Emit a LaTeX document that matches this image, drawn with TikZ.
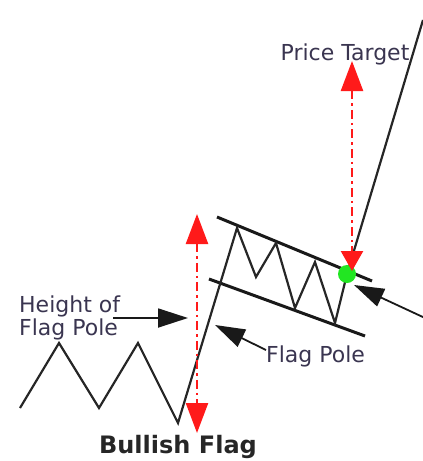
\documentclass[tikz,border=0pt]{standalone}
\usepackage{fontspec}
\setmainfont{DejaVu Sans}
\usetikzlibrary{arrows.meta,positioning}
\definecolor{cred}{HTML}{FF1A1A}
\definecolor{cgreen}{HTML}{22E622}
\definecolor{ctext}{HTML}{3A3550}
\begin{document}
\begin{tikzpicture}[x=1pt,y=-1pt,
  font=\fontsize{22}{23}\selectfont,
  price/.style={line width=2.2pt,line join=miter,black!85},
  flag/.style={line width=3pt,black!90},
  lbl/.style={text=ctext,inner sep=0pt,align=left},
  arr/.style={-{Triangle[length=30pt,width=19pt]},line width=1.8pt,black!90},
  target/.style={{Triangle[length=30pt,width=22pt]}-{Triangle[length=30pt,width=22pt]},
    cred,line width=2.4pt,dash pattern=on 9pt off 4pt on 2.5pt off 4pt}]
  \useasboundingbox (0,0) rectangle (423,461);
  % price path
  \coordinate (p0) at (20,408);  \coordinate (p1) at (59,343);
  \coordinate (p2) at (99,408);  \coordinate (p3) at (138,343);
  \coordinate (p4) at (178,423); \coordinate (p5) at (237,228);
  \coordinate (p6) at (256,277); \coordinate (p7) at (276,243);
  \coordinate (p8) at (295,308); \coordinate (p9) at (315,262);
  \coordinate (p10) at (335,323); \coordinate (brk) at (347,274);
  \coordinate (p11) at (423,20);
  % flag borders
  \coordinate (ua) at (217,217); \coordinate (ub) at (372,281);
  \coordinate (la) at (209,279); \coordinate (lb) at (365,336);
  \draw[flag] (ua) -- (ub);
  \draw[flag] (la) -- (lb);
  \draw[price] (p0)--(p1)--(p2)--(p3)--(p4)--(p5)--(p6)--(p7)--(p8)--(p9)--(p10)--(brk)--(p11);
  \node[circle,fill=cgreen,inner sep=0pt,minimum size=18pt] (dot) at (brk) {};
  % measured moves
  \coordinate (ht) at (197,214); \coordinate (hb) at (197,433);
  \draw[target] (ht) -- (hb);
  \coordinate (tt) at (352,61); \coordinate (tb) at (352,271);
  \draw[target,{Triangle[length=30pt,width=22pt]}-{Triangle[length=20pt,width=22pt]}] (tt) -- (tb);
  % labels
  \node[lbl] (hgt) at (19,318) [anchor=west] {Height of\\Flag Pole};
  \node[lbl] (pole) at (266,356) [anchor=west] {Flag Pole};
  \node[lbl] (tgt) at (345,54) {Price Target};
  \node[lbl,font=\fontsize{24}{26}\selectfont\bfseries,text=black!85] (title) at (178,447) {Bullish Flag};
  \coordinate (htail) at (113,318);
  \coordinate (htip) at (188,318);
  \coordinate (ptip) at (215,325);
  \coordinate (rtail) at (425,318);
  \coordinate (rtip) at (354,285);
  \draw[arr] (htail) -- (htip);
  \draw[arr] ([yshift=6pt]pole.west) -- (ptip);
  \draw[arr] (rtail) -- (rtip);
\end{tikzpicture}
\end{document}
